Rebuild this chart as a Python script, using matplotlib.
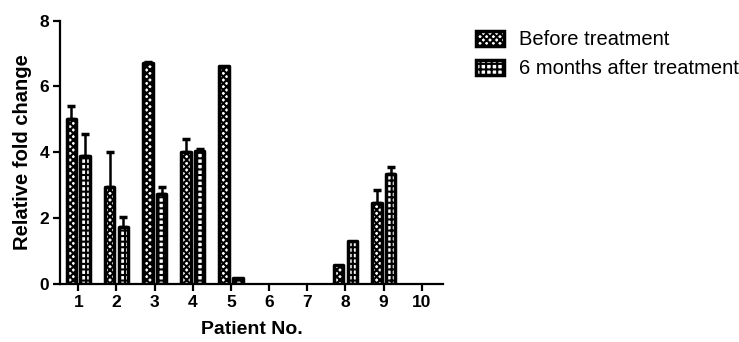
import numpy as np
import matplotlib
matplotlib.use("Agg")
import matplotlib.pyplot as plt
from matplotlib.patches import Patch

patients = [1, 2, 3, 4, 5, 6, 7, 8, 9, 10]
before_mean = [5.0, 2.94, 6.72, 4.0, 6.62, 0, 0, 0.57, 2.45, 0]
before_err = [0.4, 1.06, 0.03, 0.42, 0.0, 0, 0, 0.0, 0.42, 0]
after_mean = [3.9, 1.72, 2.72, 4.05, 0.18, 0, 0, 1.32, 3.33, 0]
after_err = [0.67, 0.33, 0.23, 0.05, 0.0, 0, 0, 0.0, 0.22, 0]

labels = ["Before treatment", "6 months after treatment"]

plt.rcParams["font.family"] = ["Liberation Sans", "DejaVu Sans"]
plt.rcParams["hatch.linewidth"] = 1.5

fig = plt.figure(figsize=(7.39, 3.42), dpi=100)
ax = fig.add_axes([0.0812, 0.1696, 0.518, 0.77])

x = np.array(patients, dtype=float)
w = 0.25
off = 0.18
HATCH_BEFORE = "xxxxx"
HATCH_AFTER = "+++"


def edge_widths(vals, lw=2.5):
    # no outline for empty bars, otherwise it thickens the axis line
    return [lw if v > 0 else 0 for v in vals]


# error bars behind the bars (upper only)
for xs, m, e in [(x - off, before_mean, before_err), (x + off, after_mean, after_err)]:
    m = np.array(m)
    e = np.array(e)
    keep = e > 0
    ax.errorbar(xs[keep], m[keep], yerr=[np.zeros(keep.sum()), e[keep]],
                fmt="none", ecolor="black", elinewidth=1.8, capsize=3,
                capthick=2.5, zorder=1)

ax.bar(x - off, before_mean, w, color="white", edgecolor="black",
       hatch=HATCH_BEFORE, linewidth=0, zorder=2)
ax.bar(x - off, before_mean, w, fill=False, edgecolor="black",
       linewidth=edge_widths(before_mean), joinstyle="round", zorder=3)
ax.bar(x + off, after_mean, w, color="white", edgecolor="black",
       hatch=HATCH_AFTER, linewidth=0, zorder=2)
ax.bar(x + off, after_mean, w, fill=False, edgecolor="black",
       linewidth=edge_widths(after_mean), joinstyle="round", zorder=3)

ax.set_xlim(0.52, 10.55)
ax.set_ylim(0, 8)
ax.set_yticks([0, 2, 4, 6, 8])
ax.set_xticks(patients)
for s in ["top", "right"]:
    ax.spines[s].set_visible(False)
for s in ["left", "bottom"]:
    ax.spines[s].set_linewidth(1.6)
ax.tick_params(width=1.6, length=5, labelsize=12.5, pad=3)
for t in ax.get_xticklabels() + ax.get_yticklabels():
    t.set_fontweight("bold")

ax.set_xlabel("Patient No.", fontsize=14, fontweight="bold", labelpad=8)
ax.set_ylabel("Relative fold change", fontsize=14.5, fontweight="bold", labelpad=5)

handles = [
    Patch(facecolor="white", edgecolor="black", hatch=HATCH_BEFORE, linewidth=2.5),
    Patch(facecolor="white", edgecolor="black", hatch=HATCH_AFTER, linewidth=2.5),
]
fig.legend(handles, labels, loc="upper left", bbox_to_anchor=(0.633, 0.935),
           frameon=False, fontsize=14.5, handlelength=1.4, handleheight=0.75,
           handletextpad=0.75, labelspacing=0.5, borderaxespad=0)

fig.savefig("out.png", dpi=100)
